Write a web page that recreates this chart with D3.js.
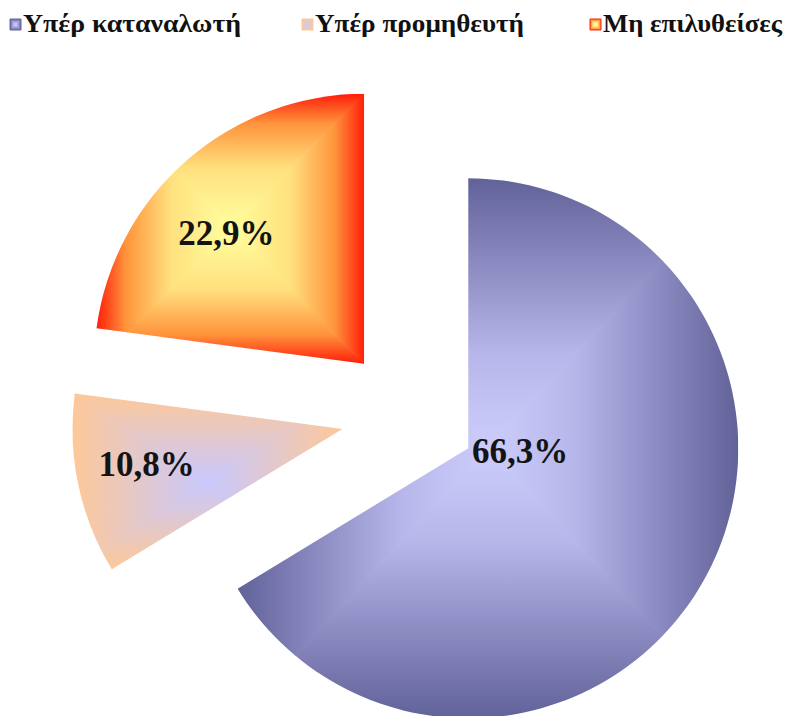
<!DOCTYPE html>
<html>
<head>
<meta charset="utf-8">
<script src="https://cdn.jsdelivr.net/npm/d3@7"></script>
<style>
  html, body { margin: 0; padding: 0; background: #fff; }
  svg { display: block; }
</style>
</head>
<body>
<svg id="chart" width="790" height="716"></svg>
<script>
// Outcome of disputes (share of cases, %)
const categories = ["Υπέρ καταναλωτή", "Υπέρ προμηθευτή", "Μη επιλυθείσες"];
const shares = [66.3, 10.8, 22.9];
const valueLabels = ["66,3%", "10,8%", "22,9%"];

// Fill palettes, centre -> edge of each shape (rectangular "from centre" gradient)
const palettes = [
  [[0, "#cdcdfc"], [0.35, "#b6b6ea"], [1, "#62629a"]],
  [[0, "#c8c8ff"], [1, "#fec898"]],
  [[0, "#ffff9e"], [0.45, "#ffe07e"], [0.78, "#ff943c"], [1, "#ff1e0a"]]
];

const W = 790, H = 716;
const centerX = 409, centerY = 415, radius = 270, explode = 68;
// Label placement inside each slice: [angle in degrees, distance from apex]
const labelPolar = [[94, 52], [259.6, 199], [313.5, 190]];

const svg = d3.select("#chart");
const defs = svg.append("defs");

// Paints a rectangular path gradient over box b using four triangles,
// each with a linear ramp running from the box centre to one side.
function rectGradient(g, b, stops, id, clipId) {
  const cx = b.x + b.width / 2, cy = b.y + b.height / 2;
  const x0 = b.x, x1 = b.x + b.width, y0 = b.y, y1 = b.y + b.height;
  const sides = [
    { pts: [[cx, cy], [x0, y0], [x1, y0]], to: [cx, y0] },
    { pts: [[cx, cy], [x1, y0], [x1, y1]], to: [x1, cy] },
    { pts: [[cx, cy], [x1, y1], [x0, y1]], to: [cx, y1] },
    { pts: [[cx, cy], [x0, y1], [x0, y0]], to: [x0, cy] }
  ];
  const holder = g.append("g");
  if (clipId) holder.attr("clip-path", `url(#${clipId})`);
  sides.forEach((s, k) => {
    const gid = `${id}-g${k}`;
    const lg = defs.append("linearGradient").attr("id", gid)
      .attr("gradientUnits", "userSpaceOnUse")
      .attr("x1", cx).attr("y1", cy).attr("x2", s.to[0]).attr("y2", s.to[1]);
    stops.forEach(([o, c]) => lg.append("stop").attr("offset", o).attr("stop-color", c));
    // stroking with the same ramp closes the seams along the diagonals
    holder.append("polygon")
      .attr("points", s.pts.map(p => p.join(",")).join(" "))
      .attr("fill", `url(#${gid})`)
      .attr("stroke", `url(#${gid})`)
      .attr("stroke-width", 1)
      .attr("stroke-linejoin", "round");
  });
}

// Pie slices
const pie = d3.pie().sort(null).value(d => d).startAngle(0).endAngle(2 * Math.PI);
const arc = d3.arc().innerRadius(0).outerRadius(radius);
const arcs = pie(shares);

const slices = svg.append("g");
arcs.forEach((a, i) => {
  const mid = (a.startAngle + a.endAngle) / 2;
  const tx = centerX + explode * Math.sin(mid);
  const ty = centerY - explode * Math.cos(mid);
  const g = slices.append("g").attr("transform", `translate(${tx},${ty})`);
  const d = arc(a);
  const clipId = `slice-clip-${i}`;
  defs.append("clipPath").attr("id", clipId).append("path").attr("d", d);
  const probe = g.append("path").attr("d", d).attr("fill", "none");
  const bb = probe.node().getBBox();
  probe.remove();
  rectGradient(g, bb, palettes[i], `slice-${i}`, clipId);

  const [angDeg, dist] = labelPolar[i];
  const la = angDeg * Math.PI / 180;
  g.append("text")
    .attr("x", dist * Math.sin(la))
    .attr("y", -dist * Math.cos(la))
    .attr("text-anchor", "middle")
    .attr("dominant-baseline", "central")
    .attr("font-family", "'Liberation Serif', 'DejaVu Serif', serif")
    .attr("font-weight", "bold")
    .attr("font-size", 35)
    .attr("fill", "#141414")
    .text(valueLabels[i]);
});

// Legend
const legendX = [10, 302, 590];
const legendWidths = [218, 209, 179];
const legend = svg.append("g");
categories.forEach((c, i) => {
  const g = legend.append("g").attr("transform", `translate(${legendX[i]},19)`);
  rectGradient(g, { x: 0, y: 0, width: 11, height: 11 }, palettes[i], `legend-${i}`, null);
  g.append("text")
    .attr("x", 13)
    .attr("y", 13)
    .attr("font-family", "'Liberation Serif', 'DejaVu Serif', serif")
    .attr("font-weight", "bold")
    .attr("font-size", 25)
    .attr("fill", "#111")
    .attr("textLength", legendWidths[i])
    .attr("lengthAdjust", "spacingAndGlyphs")
    .text(c);
});
</script>
</body>
</html>
